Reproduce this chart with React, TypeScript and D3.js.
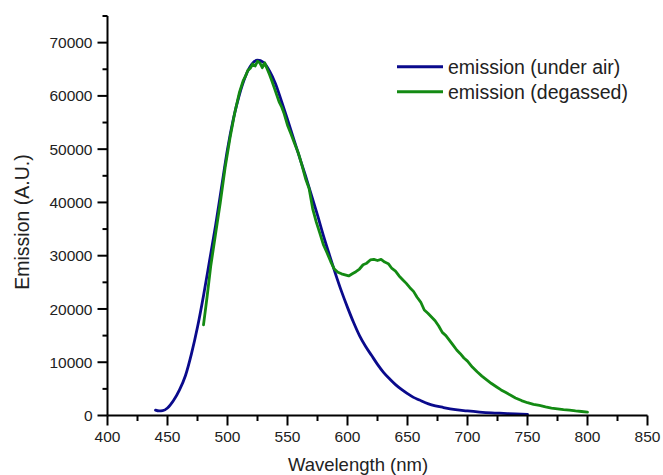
import React from "react";
import { scaleLinear, line, curveMonotoneX, curveLinear, range } from "d3";

// wavelength (nm) / emission (A.U.)
const airWl = [440, 443, 446, 450, 455, 460, 465, 470, 475, 480, 485, 490, 495, 500, 505, 510, 515, 520, 525, 530, 535, 540, 545, 550, 555, 560, 565, 570, 575, 580, 585, 590, 595, 600, 605, 610, 615, 620, 625, 630, 635, 640, 645, 650, 655, 660, 665, 670, 680, 690, 700, 710, 720, 730, 740, 750];
const airEm = [1000, 850, 900, 1400, 2800, 4800, 7500, 11600, 16600, 22500, 29000, 35600, 42800, 50000, 55800, 60300, 63700, 65900, 66700, 66300, 64700, 62300, 59000, 55600, 52000, 48500, 45000, 41300, 37600, 33700, 30100, 26600, 23300, 20300, 17500, 15000, 13000, 11300, 9600, 8100, 6900, 5800, 4900, 4100, 3400, 2900, 2400, 2000, 1500, 1100, 850, 650, 500, 400, 300, 220];

const degWl = [480, 483, 486, 490, 494, 498, 502, 506, 510, 513, 515, 517, 519, 521, 523, 525, 527, 529, 531, 533, 535, 537, 539, 541, 543, 545, 547, 550, 553, 556, 559, 562, 565, 568, 571, 574, 577, 580, 583, 586, 589, 592, 595, 598, 601, 604, 607, 610, 613, 616, 619, 622, 625, 628, 631, 634, 637, 640, 643, 646, 649, 652, 655, 658, 661, 664, 667, 670, 673, 676, 679, 682, 685, 688, 691, 694, 697, 700, 704, 708, 712, 716, 720, 724, 728, 732, 736, 740, 745, 750, 755, 760, 765, 770, 775, 780, 785, 790, 795, 800];
const degEm = [17000, 22300, 28000, 34000, 40000, 46500, 52000, 56800, 60700, 62800, 63700, 64800, 65200, 66000, 65600, 66500, 66200, 65300, 66200, 65100, 64000, 62800, 61500, 60200, 58900, 58000, 56800, 54500, 52800, 51000, 49300, 47000, 44500, 42600, 38800, 36300, 34200, 32000, 30500, 28900, 27500, 26900, 26600, 26400, 26200, 26600, 27000, 27500, 28300, 28600, 29200, 29300, 29100, 29300, 28800, 28500, 27600, 27100, 26200, 25500, 24800, 24000, 23300, 22200, 21300, 19800, 19200, 18500, 17800, 16800, 15600, 15000, 14100, 13200, 12300, 11600, 10800, 10200, 9100, 8200, 7400, 6700, 6000, 5400, 4800, 4300, 3800, 3300, 2800, 2400, 2100, 1900, 1600, 1400, 1250, 1100, 1000, 850, 750, 650];

const seriesNames = ["emission (under air)", "emission (degassed)"];
const seriesColors = ["#0a0a8c", "#138a13"];

const xMajor = [400, 450, 500, 550, 600, 650, 700, 750, 800, 850];
const xMinor = range(425, 850, 50);
const yMajor = [0, 10000, 20000, 30000, 40000, 50000, 60000, 70000];
const yMinor = range(5000, 75001, 10000);

const font = "'Liberation Sans', Arial, sans-serif";

export default function App() {
  const x = scaleLinear().domain([400, 850]).range([107.5, 647.5]);
  const y = scaleLinear().domain([0, 75000]).range([415.5, 16]);

  const mk = (c: any) =>
    line<[number, number]>()
      .x((d) => x(d[0]))
      .y((d) => y(d[1]))
      .curve(c);

  const airPts = airWl.map((w, i) => [w, airEm[i]] as [number, number]);
  const degPts = degWl.map((w, i) => [w, degEm[i]] as [number, number]);
  const paths = [mk(curveMonotoneX)(airPts), mk(curveLinear)(degPts)];

  return (
    <svg width={663} height={475} style={{ position: "absolute", left: 0, top: 0, background: "#fff" }}>
      {/* data */}
      {paths.map((d, i) => (
        <path key={i} d={d || ""} fill="none" stroke={seriesColors[i]} strokeWidth={2.8} strokeLinejoin="round" strokeLinecap="round" />
      ))}

      {/* x axis */}
      <line x1={x(400)} x2={x(850)} y1={y(0)} y2={y(0)} stroke="#000" strokeWidth={2} />
      {xMajor.map((t) => (
        <g key={t}>
          <line x1={x(t)} x2={x(t)} y1={y(0)} y2={y(0) + 10} stroke="#000" strokeWidth={2} />
          <text x={x(t)} y={441.5} textAnchor="middle" fontFamily={font} fontSize={15.5} fill="#222">{t}</text>
        </g>
      ))}
      {xMinor.map((t) => (
        <line key={t} x1={x(t)} x2={x(t)} y1={y(0)} y2={y(0) + 5.5} stroke="#000" strokeWidth={2} />
      ))}
      <text x={358} y={470.5} textAnchor="middle" fontFamily={font} fontSize={18.5} fill="#222">Wavelength (nm)</text>

      {/* y axis */}
      <line x1={x(400)} x2={x(400)} y1={y(0)} y2={y(75000)} stroke="#000" strokeWidth={2} />
      {yMajor.map((t) => (
        <g key={t}>
          <line x1={x(400) - 10} x2={x(400)} y1={y(t)} y2={y(t)} stroke="#000" strokeWidth={2} />
          <text x={92.5} y={y(t)} dy="0.36em" textAnchor="end" fontFamily={font} fontSize={15.5} fill="#222">{t}</text>
        </g>
      ))}
      {yMinor.map((t) => (
        <line key={t} x1={x(400) - 5} x2={x(400)} y1={y(t)} y2={y(t)} stroke="#000" strokeWidth={2} />
      ))}
      <text transform="translate(28.5,222) rotate(-90)" textAnchor="middle" fontFamily={font} fontSize={19.5} fill="#222">Emission (A.U.)</text>

      {/* legend */}
      {seriesNames.map((n, i) => (
        <g key={n} transform={`translate(397,${66.7 + i * 25})`}>
          <line x1={0} x2={46} y1={0} y2={0} stroke={seriesColors[i]} strokeWidth={3} />
          <text x={51} y={0} dy="0.36em" fontFamily={font} fontSize={19.5} fill="#222">{n}</text>
        </g>
      ))}
    </svg>
  );
}
